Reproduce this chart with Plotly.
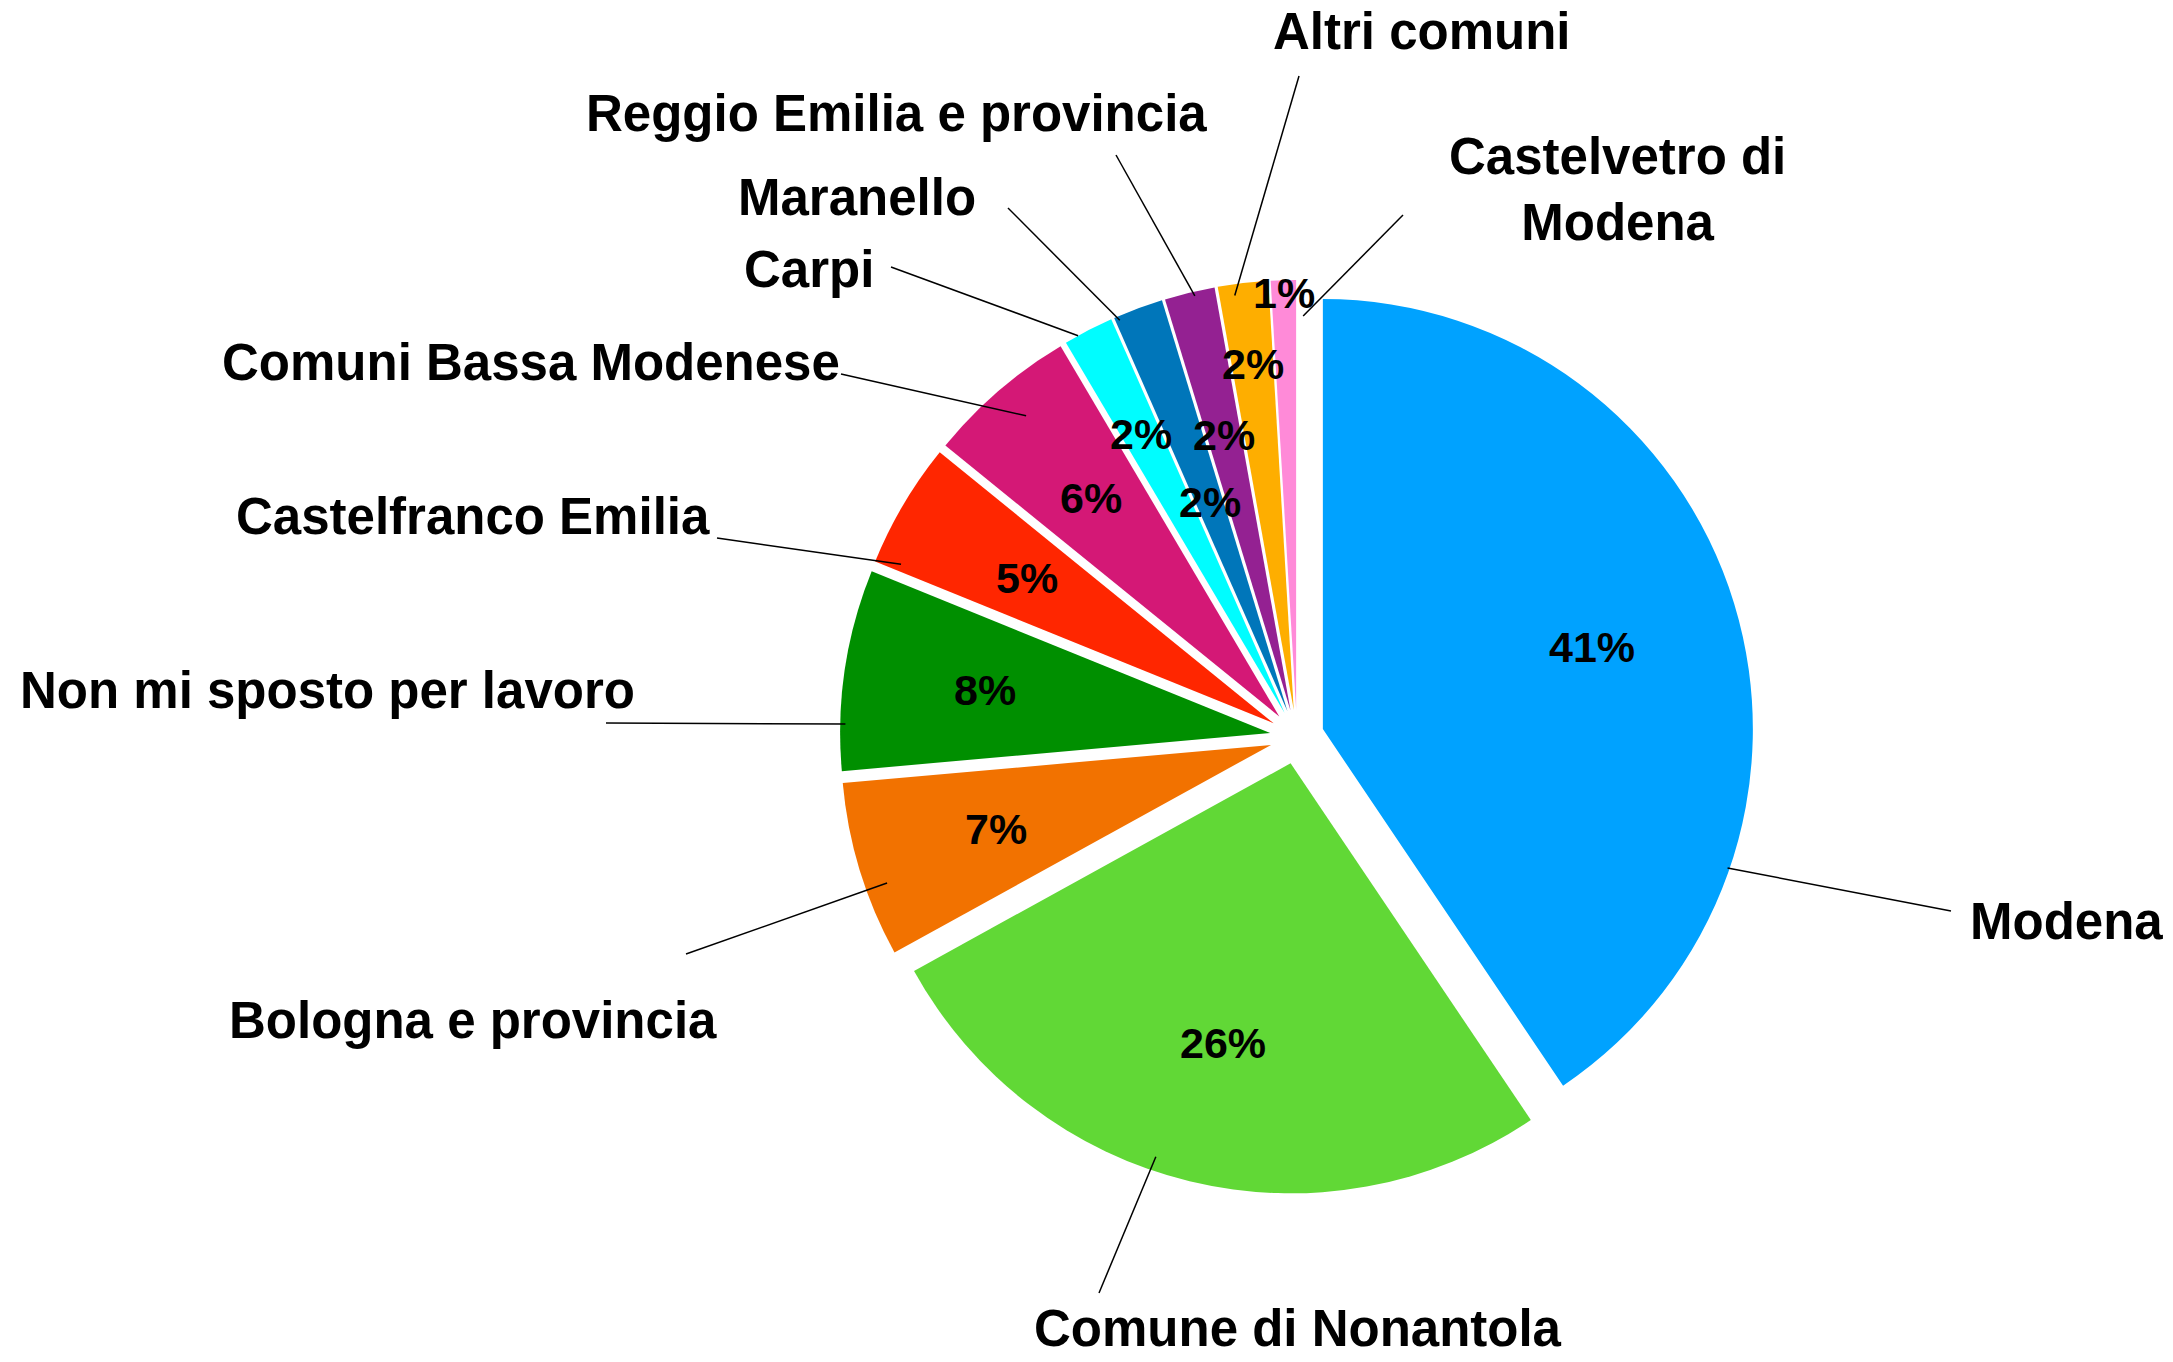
import math
import plotly.graph_objects as go

# ---------------- data ----------------
categories = [
    "Modena",
    "Comune di Nonantola",
    "Bologna e provincia",
    "Non mi sposto per lavoro",
    "Castelfranco Emilia",
    "Comuni Bassa Modenese",
    "Carpi",
    "Maranello",
    "Reggio Emilia e provincia",
    "Altri comuni",
    "Castelvetro di<br>Modena",
]
counts = [43, 28, 7, 8, 5, 6, 2, 2, 2, 2, 1]

# ---------------- style ----------------
colors = ["#00A2FF", "#61D836", "#F27200", "#008F00", "#FF2600", "#D41876",
          "#00FDFF", "#0076BA", "#942192", "#FEAE00", "#FF8AD8"]

W, H = 2173, 1362
DOM_X = [0.3865, 0.8072]
DOM_Y = [0.1233, 0.7945]
PULL = 0.063
FONT = "Liberation Sans, Arial, Helvetica, sans-serif"
LABEL_SIZE = 51
PCT_SIZE = 43

# radial position (fraction of radius) of each percentage text
pct_radius = [0.655, 0.67, 0.67, 0.67, 0.665, 0.67, 0.73, 0.52, 0.66, 0.81, 0.97]
# label text centre (px) and outer end of its leader line (px)
label_pos = [(2066, 921), (1298, 1328), (473, 1020), (327, 690), (473, 516),
             (531, 363), (809, 269), (857, 197), (896, 114), (1422, 32), (1617, 190)]
line_outer = [(1951, 911), (1099, 1293), (686, 954), (606, 723), (717, 538),
              (841, 374), (891, 267), (1008, 208), (1116, 155), (1299, 76), (1403, 215)]
# inner end of leader line: (fraction across the slice, fraction of radius)
line_inner = [(0.746, 0.995), (0.556, 0.967), (0.382, 0.949), (0.232, 0.988),
              (0.06, 0.942), (0.532, 0.914), (0.275, 1.0), (0.084, 0.99),
              (0.586, 0.99), (0.308, 0.974), (1.3, 0.916)]

# ---------------- geometry (same rules as plotly's pie) ----------------
boxW = W * (DOM_X[1] - DOM_X[0])
boxH = H * (DOM_Y[1] - DOM_Y[0])
R = min(boxW, boxH) / (2 + 2 * PULL)
CX = W * (DOM_X[0] + DOM_X[1]) / 2
CY = H * (1 - (DOM_Y[0] + DOM_Y[1]) / 2)
total = sum(counts)


def px2paper(x, y):
    return x / W, 1 - y / H


def polar(vx, vy, ang_deg, rad):
    a = math.radians(ang_deg)
    return vx + rad * math.sin(a), vy - rad * math.cos(a)


fig = go.Figure()
fig.add_trace(go.Pie(
    labels=categories, values=counts, sort=False, direction="clockwise",
    rotation=0, pull=PULL, textinfo="none", hoverinfo="label+percent",
    marker=dict(colors=colors, line=dict(width=0)),
    domain=dict(x=DOM_X, y=DOM_Y), showlegend=False,
))

annotations = []
shapes = []
cum = 0.0
for i, v in enumerate(counts):
    start = cum / total * 360
    span = v / total * 360
    mid = start + span / 2
    cum += v
    vx, vy = polar(CX, CY, mid, PULL * R)  # pulled vertex of the slice

    # percentage text
    tx, ty = polar(vx, vy, mid, pct_radius[i] * R)
    px, py = px2paper(tx, ty)
    annotations.append(dict(
        x=px, y=py, xref="paper", yref="paper", showarrow=False,
        text=f"{round(100 * v / total)}%", xanchor="center", yanchor="middle",
        font=dict(family=FONT, size=PCT_SIZE, color="black", weight="bold"),
    ))

    # category label
    lx, ly = px2paper(*label_pos[i])
    annotations.append(dict(
        x=lx, y=ly, xref="paper", yref="paper", showarrow=False,
        text=categories[i], xanchor="center", yanchor="middle", align="center",
        font=dict(family=FONT, size=LABEL_SIZE, color="black", weight="bold"),
    ))

    # leader line
    f, rf = line_inner[i]
    ix, iy = polar(vx, vy, start + f * span, rf * R)
    x0, y0 = px2paper(*line_outer[i])
    x1, y1 = px2paper(ix, iy)
    shapes.append(dict(type="line", xref="paper", yref="paper",
                       x0=x0, y0=y0, x1=x1, y1=y1,
                       line=dict(color="black", width=1.5)))

fig.update_layout(
    width=W, height=H, margin=dict(l=0, r=0, t=0, b=0),
    paper_bgcolor="white", plot_bgcolor="white", showlegend=False,
    annotations=annotations, shapes=shapes,
)

fig.write_html("out.html",
               config={"displayModeBar": False},
               post_script="document.body.style.margin='0';document.body.style.padding='0';")
